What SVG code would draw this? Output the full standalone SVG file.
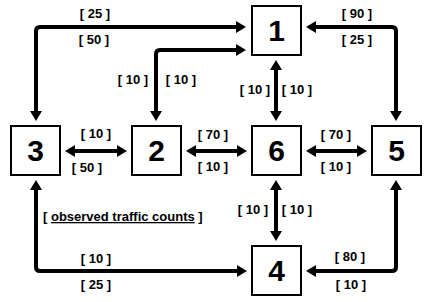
<svg xmlns="http://www.w3.org/2000/svg" width="440" height="302" viewBox="0 0 440 302">
<style>
.box{fill:#fff;stroke:#000;stroke-width:2}
.num{font-family:"Liberation Sans",Arial,sans-serif;font-weight:bold;font-size:30px;text-anchor:middle;fill:#000}
.lbl{font-family:"Liberation Sans",Arial,sans-serif;font-weight:bold;font-size:13px;text-anchor:middle;fill:#000}
.con{fill:none;stroke:#000;stroke-width:4;marker-start:url(#ah);marker-end:url(#ah)}
</style>
<defs>
<marker id="ah" markerUnits="userSpaceOnUse" viewBox="0 0 10 12" markerWidth="10" markerHeight="12" refX="1" refY="6" orient="auto-start-reverse">
<path d="M0,0 L10,6 L0,12 z" fill="#000"/>
</marker>
</defs>
<rect width="440" height="302" fill="#fff"/>
<g id="connectors">
<path class="con" d="M36,112 V31 Q36,27 40,27 H237"/>
<path class="con" d="M156,112 V54 Q156,50 160,50 H237"/>
<path class="con" d="M315,27 H392 Q396,27 396,31 V112"/>
<path class="con" d="M276,69 V112"/>
<path class="con" d="M74,151 H118"/>
<path class="con" d="M195,151 H238"/>
<path class="con" d="M315,151 H358"/>
<path class="con" d="M276,189 V232"/>
<path class="con" d="M36,189 V267 Q36,271 40,271 H238"/>
<path class="con" d="M396,189 V267 Q396,271 392,271 H315"/>
</g>
<g id="node1"><rect class="box" x="252" y="6" width="49" height="49"/><text class="num" x="276.5" y="41">1</text></g>
<g id="node2"><rect class="box" x="132" y="126" width="49" height="49"/><text class="num" x="156.5" y="161">2</text></g>
<g id="node3"><rect class="box" x="11" y="126" width="49" height="49"/><text class="num" x="35.5" y="161">3</text></g>
<g id="node4"><rect class="box" x="252" y="246" width="49" height="49"/><text class="num" x="276.5" y="281">4</text></g>
<g id="node5"><rect class="box" x="372" y="126" width="49" height="49"/><text class="num" x="396.5" y="161">5</text></g>
<g id="node6"><rect class="box" x="252" y="126" width="49" height="49"/><text class="num" x="276.5" y="161">6</text></g>
<g id="labels">
<text class="lbl" x="95" y="18">[ 25 ]</text>
<text class="lbl" x="94" y="44">[ 50 ]</text>
<text class="lbl" x="133" y="84">[ 10 ]</text>
<text class="lbl" x="181" y="84">[ 10 ]</text>
<text class="lbl" x="357" y="18">[ 90 ]</text>
<text class="lbl" x="357" y="44">[ 25 ]</text>
<text class="lbl" x="255" y="94">[ 10 ]</text>
<text class="lbl" x="297" y="94">[ 10 ]</text>
<text class="lbl" x="96" y="138">[ 10 ]</text>
<text class="lbl" x="87" y="172">[ 50 ]</text>
<text class="lbl" x="213" y="139">[ 70 ]</text>
<text class="lbl" x="213" y="171">[ 10 ]</text>
<text class="lbl" x="336" y="139">[ 70 ]</text>
<text class="lbl" x="336" y="171">[ 10 ]</text>
<text class="lbl" x="253" y="214">[ 10 ]</text>
<text class="lbl" x="297" y="214">[ 10 ]</text>
<text class="lbl" x="43" y="221" style="text-anchor:start">[ <tspan text-decoration="underline">observed traffic counts</tspan> ]</text>
<text class="lbl" x="96" y="263">[ 10 ]</text>
<text class="lbl" x="96" y="289">[ 25 ]</text>
<text class="lbl" x="350" y="261">[ 80 ]</text>
<text class="lbl" x="351" y="289">[ 10 ]</text>
</g>
</svg>
